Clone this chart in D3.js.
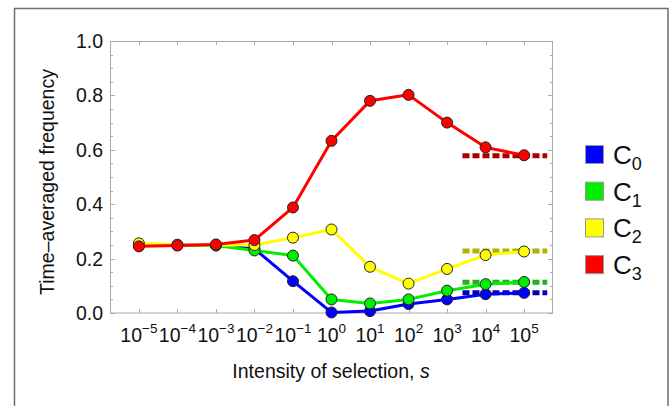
<!DOCTYPE html>
<html><head><meta charset="utf-8">
<script src="https://cdn.jsdelivr.net/npm/d3@7"></script>
<style>body{margin:0;background:#fff}svg{display:block;font-family:"Liberation Sans",Arial,sans-serif}</style>
</head><body>
<script>
const exponents = [-5,-4,-3,-2,-1,0,1,2,3,4,5];
const seriesNames = ["0","1","2","3"];
const c0 = [0.248,0.250,0.249,0.236,0.117,0.002,0.007,0.033,0.050,0.069,0.074];
const c1 = [0.250,0.250,0.248,0.230,0.211,0.050,0.035,0.050,0.082,0.106,0.114];
const c2 = [0.256,0.251,0.250,0.250,0.277,0.307,0.170,0.108,0.162,0.213,0.226];
const c3 = [0.245,0.248,0.252,0.268,0.388,0.633,0.780,0.802,0.700,0.609,0.580];
const limits = [0.074,0.113,0.228,0.578];
const yTicks = [0,0.2,0.4,0.6,0.8,1.0];
const colors = ["#0000ff","#00ee00","#ffff00","#ff0000"];
const dashColors = ["#0000b4","#22b022","#b4b000","#a80000"];
const allSeries = [c0,c1,c2,c3];

const W=672,H=406;
const svg=d3.select("body").append("svg").attr("width",W).attr("height",H);
svg.append("rect").attr("x",14.5).attr("y",8.5).attr("width",653.5).attr("height",420)
  .attr("fill","none").attr("stroke","#6e6e6e").attr("stroke-width",1.5);

const x=d3.scaleLinear().domain([-5.75,5.75]).range([110,553]);
const y=d3.scaleLinear().domain([0,1]).range([313,41]);

// frame
svg.append("rect").attr("x",110.5).attr("y",41.5).attr("width",442).attr("height",271.5)
  .attr("fill","none").attr("stroke","#aaaaaa").attr("stroke-width",1);

const minor=d3.range(0,1.0001,0.05);
const g=svg.append("g").attr("stroke","#aaaaaa").attr("stroke-width",1);
minor.forEach(v=>{
  const major=Math.abs(v*5-Math.round(v*5))<1e-6;
  const L=major?5:3;
  const yy=Math.round(y(v))+0.5;
  g.append("line").attr("x1",110).attr("x2",110+L).attr("y1",yy).attr("y2",yy);
  g.append("line").attr("x1",553-L).attr("x2",553).attr("y1",yy).attr("y2",yy);
});
exponents.forEach(e=>{
  const xx=Math.round(x(e))+0.5;
  g.append("line").attr("x1",xx).attr("x2",xx).attr("y1",313).attr("y2",309);
  g.append("line").attr("x1",xx).attr("x2",xx).attr("y1",41).attr("y2",45);
});

// y tick labels
svg.selectAll(".yt").data(yTicks).enter().append("text")
  .attr("x",103).attr("y",d=>y(d)+7).attr("text-anchor","end")
  .attr("font-size",19.5).attr("fill","#111").text(d=>d.toFixed(1));

// x tick labels
exponents.forEach(e=>{
  const t=svg.append("text").attr("x",x(e)).attr("y",342).attr("text-anchor","middle")
    .attr("font-size",19.5).attr("fill","#111");
  t.append("tspan").text("10");
  t.append("tspan").attr("font-size",13.5).attr("dy",-9).text(e<0?"\u2212"+(-e):String(e));
});

// axis titles
svg.append("text").attr("x",331).attr("y",378).attr("text-anchor","middle")
  .attr("font-size",19.5).attr("fill","#111")
  .html('Intensity of selection, <tspan font-style="italic">s</tspan>');
svg.append("text").attr("transform","translate(54,182) rotate(-90)").attr("text-anchor","middle")
  .attr("font-size",19.5).attr("fill","#111").text("Time\u2013averaged frequency");

// dashed limit lines
limits.forEach((v,i)=>{
  svg.append("line").attr("x1",x(3.4)).attr("x2",x(5.6)).attr("y1",y(v)).attr("y2",y(v))
    .attr("stroke",dashColors[i]).attr("stroke-width",5).attr("stroke-dasharray","7,3");
});

// series
const line=d3.line().x((d,i)=>x(exponents[i])).y(d=>y(d));
allSeries.forEach((s,i)=>{
  svg.append("path").attr("d",line(s)).attr("fill","none").attr("stroke",colors[i])
    .attr("stroke-width",3).attr("stroke-linejoin","round");
  svg.selectAll(null).data(s).enter().append("circle")
    .attr("cx",(d,j)=>x(exponents[j])).attr("cy",d=>y(d)).attr("r",5.5)
    .attr("fill",colors[i]).attr("stroke","#222").attr("stroke-width",1);
});

// legend
seriesNames.forEach((n,i)=>{
  const ly=145+i*36.7;
  svg.append("rect").attr("x",585.5).attr("y",ly+0.5).attr("width",18).attr("height",18)
    .attr("fill",colors[i]).attr("stroke","#999").attr("stroke-width",1);
  const t=svg.append("text").attr("x",613).attr("y",ly+19).attr("font-size",26).attr("fill","#111");
  t.append("tspan").text("C");
  t.append("tspan").attr("font-size",18).attr("dy",6).text(n);
});
</script>
</body></html>
